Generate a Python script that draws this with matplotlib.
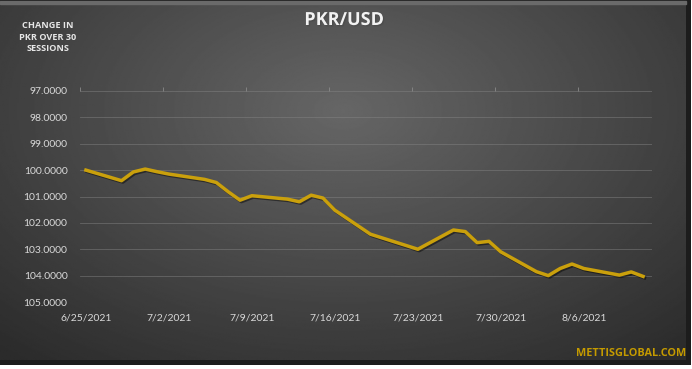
import numpy as np
import pandas as pd
import matplotlib
matplotlib.use("Agg")
import matplotlib.pyplot as plt
import matplotlib.patheffects as pe

# --- data ---
dates = ["2021-06-25", "2021-06-28", "2021-06-29", "2021-06-30", "2021-07-01",
         "2021-07-02", "2021-07-05", "2021-07-06", "2021-07-07", "2021-07-08",
         "2021-07-09", "2021-07-12", "2021-07-13", "2021-07-14", "2021-07-15",
         "2021-07-16", "2021-07-19", "2021-07-23", "2021-07-26", "2021-07-27",
         "2021-07-28", "2021-07-29", "2021-07-30", "2021-08-02", "2021-08-03",
         "2021-08-04", "2021-08-05", "2021-08-06", "2021-08-09", "2021-08-10",
         "2021-08-11"]
pkr_usd = [100.00, 100.40, 100.07, 99.96, 100.06,
           100.15, 100.35, 100.47, 100.82, 101.14,
           100.97, 101.10, 101.20, 100.95, 101.06,
           101.52, 102.43, 103.00, 102.27, 102.33,
           102.75, 102.70, 103.10, 103.85, 104.00,
           103.73, 103.56, 103.73, 103.98, 103.86,
           104.03]
tick_dates = ["2021-06-25", "2021-07-02", "2021-07-09", "2021-07-16",
              "2021-07-23", "2021-07-30", "2021-08-06"]
y_ticks = [97, 98, 99, 100, 101, 102, 103, 104, 105]

title = "PKR/USD"
side_note = "CHANGE IN\nPKR OVER 30\nSESSIONS"
brand = "METTISGLOBAL.COM"

x = pd.to_datetime(dates)
xt = pd.to_datetime(tick_dates)
tick_labels = [f"{d.month}/{d.day}/{d.year}" for d in xt]

plt.rcParams["font.family"] = ["Lato", "DejaVu Sans"]
bold_font = ["Open Sans", "DejaVu Sans"]

W, H = 692, 369
fig = plt.figure(figsize=(W / 100, H / 100), dpi=100, facecolor="white")

# ─── dark chart panel with radial gradient ───────────────────────────
frame = fig.add_axes([0, 4 / H, 691 / W, 365 / H])
frame.axis("off")
frame.add_patch(plt.Rectangle((0, 0), 1, 1, transform=frame.transAxes,
                              color="#1c1c1c", zorder=0))
bg = fig.add_axes([0, 9 / H, 686 / W, 356 / H])
bg.axis("off")
gy, gx = np.mgrid[0:1:300j, 0:1:500j]
r = np.sqrt(((gx - 0.5) / 0.75) ** 2 + ((gy - 0.3) / 0.9) ** 2)
shade = np.clip(0.40 - 0.23 * r, 0.17, 0.40)
bg.imshow(shade, cmap="gray", vmin=0, vmax=1, aspect="auto",
          extent=(0, 1, 0, 1), origin="upper")
bg.set_xlim(0, 1)
bg.set_ylim(0, 1)
# thin lighter strip along the top edge
fig.add_artist(plt.Rectangle((0, 1 - 4 / H), 686 / W, 3 / H,
                             transform=fig.transFigure, color="#6a6a6a"))

# ─── main plot ───────────────────────────────────────────────────────
ax = fig.add_axes([80 / W, 1 - 302 / H, 572 / W, 211 / H])
ax.patch.set_alpha(0)
for s in ax.spines.values():
    s.set_visible(False)

ax.plot(x, pkr_usd, color="#caa00c", lw=2.5, solid_joinstyle="round",
        path_effects=[pe.SimpleLineShadow(offset=(1, -1), alpha=0.45),
                      pe.Normal()])

ax.set_ylim(105, 97)
ax.set_yticks(y_ticks)
ax.set_yticklabels([f"{v:.4f}" for v in y_ticks])
ax.grid(axis="y", color="#858585", lw=0.6, alpha=0.55)

half = pd.Timedelta(hours=12)
ax.set_xlim(x[0] - half, x[-1] + half + pd.Timedelta(hours=6))
ax.set_xticks(xt)
ax.set_xticklabels(tick_labels)
ax.set_xticks(xt - half, minor=True)
ax.tick_params(which="major", length=0, colors="#d9d9d9", labelsize=7.5)
ax.tick_params(axis="y", pad=9)
ax.tick_params(axis="x", pad=8)
ax.tick_params(which="minor", axis="x", top=True, bottom=False,
               direction="out", length=3, color="#8a8a8a")

fig.text(344 / W, 1 - 20 / H, title, ha="center", va="center",
         fontsize=13, fontweight="bold", color="#f2f2f2", family=bold_font,
         path_effects=[pe.withSimplePatchShadow(offset=(1, -1), alpha=0.6)])
fig.text(48 / W, 1 - 37 / H, side_note, ha="center", va="center",
         fontsize=6.6, fontweight="bold", color="#e6e6e6", linespacing=1.4,
         family=bold_font)
fig.text(686 / W, 1 - 353 / H, brand, ha="right", va="center",
         fontsize=7.8, fontweight="bold", color="#c49a00", family=bold_font)

fig.savefig("out.png", dpi=100, facecolor=fig.get_facecolor())
